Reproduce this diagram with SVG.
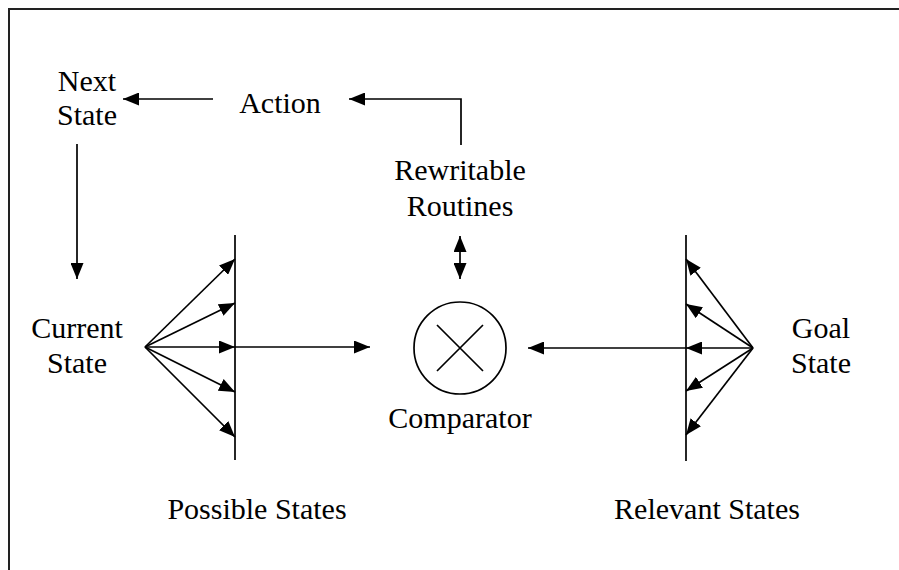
<svg xmlns="http://www.w3.org/2000/svg" width="899" height="570" viewBox="0 0 899 570">
  <style>
    .lbl { font-family: "Liberation Serif", "Times New Roman", serif; font-size: 30px; fill: #000; text-anchor: middle; }
    .ln { stroke: #000; stroke-width: 1.7; fill: none; }
    .frame { stroke: #222; stroke-width: 2; fill: none; }
  </style>
  <defs>
    <marker id="ah" markerUnits="userSpaceOnUse" markerWidth="16" markerHeight="13" refX="16" refY="6.5" orient="auto-start-reverse">
      <path d="M0,0 L16,6.5 L0,13 Z" fill="#000"/>
    </marker>
  </defs>

  <rect width="899" height="570" fill="#fff"/>
  <!-- outer frame: only left and top edges are within view -->
  <path class="frame" d="M9,570 V9 H899"/>

  <g id="connectors">
    <!-- Action -> Next State -->
    <line class="ln" x1="213" y1="99" x2="123" y2="99" marker-end="url(#ah)"/>
    <!-- Rewritable Routines -> Action -->
    <path class="ln" d="M461,145 V99 H349" marker-end="url(#ah)"/>
    <!-- Next State -> Current State -->
    <line class="ln" x1="77" y1="144" x2="77" y2="279" marker-end="url(#ah)"/>
    <!-- Rewritable Routines <-> Comparator -->
    <line class="ln" x1="460" y1="236" x2="460" y2="279" marker-start="url(#ah)" marker-end="url(#ah)"/>

    <!-- Current State fan onto possible states -->
    <line class="ln" x1="145" y1="347" x2="235" y2="259" marker-end="url(#ah)"/>
    <line class="ln" x1="145" y1="347" x2="235" y2="303" marker-end="url(#ah)"/>
    <line class="ln" x1="145" y1="347" x2="235" y2="347" marker-end="url(#ah)"/>
    <line class="ln" x1="145" y1="347" x2="235" y2="392" marker-end="url(#ah)"/>
    <line class="ln" x1="145" y1="347" x2="235" y2="437" marker-end="url(#ah)"/>
    <!-- possible states -> Comparator -->
    <line class="ln" x1="235" y1="347" x2="370" y2="347" marker-end="url(#ah)"/>

    <!-- Goal State fan onto relevant states -->
    <line class="ln" x1="753" y1="348" x2="686" y2="259" marker-end="url(#ah)"/>
    <line class="ln" x1="753" y1="348" x2="686" y2="304" marker-end="url(#ah)"/>
    <line class="ln" x1="753" y1="348" x2="686" y2="348" marker-end="url(#ah)"/>
    <line class="ln" x1="753" y1="348" x2="686" y2="391" marker-end="url(#ah)"/>
    <line class="ln" x1="753" y1="348" x2="686" y2="435" marker-end="url(#ah)"/>
    <!-- relevant states -> Comparator -->
    <line class="ln" x1="686" y1="348" x2="528" y2="348" marker-end="url(#ah)"/>
  </g>

  <g id="next-state">
    <text class="lbl" x="87" y="91">Next</text>
    <text class="lbl" x="87" y="125">State</text>
  </g>

  <g id="action">
    <text class="lbl" x="280" y="113">Action</text>
  </g>

  <g id="rewritable-routines">
    <text class="lbl" x="460" y="180">Rewritable</text>
    <text class="lbl" x="460" y="216">Routines</text>
  </g>

  <g id="current-state">
    <text class="lbl" x="77" y="338">Current</text>
    <text class="lbl" x="77" y="373">State</text>
  </g>

  <g id="possible-states">
    <line class="ln" x1="235" y1="235" x2="235" y2="460"/>
    <text class="lbl" x="257" y="519">Possible States</text>
  </g>

  <g id="comparator">
    <circle class="ln" cx="460" cy="348" r="46"/>
    <path class="ln" d="M437,325 L483,371 M483,325 L437,371"/>
    <text class="lbl" x="460" y="428">Comparator</text>
  </g>

  <g id="relevant-states">
    <line class="ln" x1="686" y1="235" x2="686" y2="461"/>
    <text class="lbl" x="707" y="519">Relevant States</text>
  </g>

  <g id="goal-state">
    <text class="lbl" x="821" y="338">Goal</text>
    <text class="lbl" x="821" y="373">State</text>
  </g>
</svg>
